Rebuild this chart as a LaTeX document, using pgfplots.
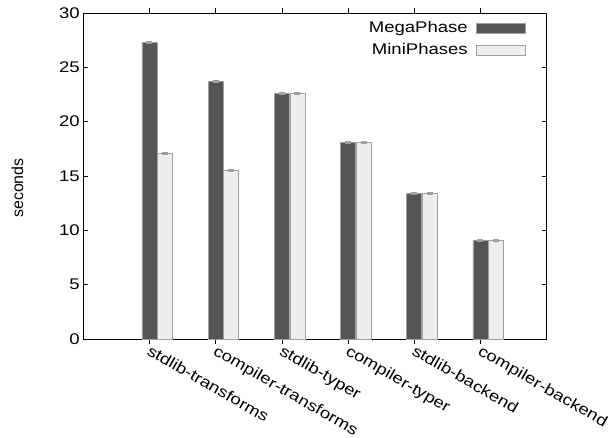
\documentclass[border=0pt]{standalone}
\usepackage{pgfplots}
\pgfplotsset{compat=1.18}
\usepackage{fontspec}
\setmainfont[FakeStretch=1.2]{Liberation Sans}
\newfontfamily\plainfont{Liberation Sans}
\definecolor{darkbar}{HTML}{555555}
\definecolor{lightbar}{HTML}{EEEEEE}
\definecolor{edgegray}{HTML}{A0A0A0}
\begin{document}
\begin{tikzpicture}
\useasboundingbox (-83.3bp,-99bp) rectangle (526.7bp,339bp);
\begin{axis}[
  at={(0,0)}, anchor=south west,
  scale only axis, width=463.4bp, height=326bp,
  xmin=-1, xmax=6, ymin=0, ymax=30,
  ytick={0,5,10,15,20,25,30},
  xtick={0,1,2,3,4,5},
  xticklabels={stdlib-transforms,compiler-transforms,stdlib-typer,compiler-typer,stdlib-backend,compiler-backend},
  tick align=inside, tick pos=both,
  major tick length=5bp,
  tick style={black, line width=0.6pt},
  axis line style={black, line width=0.8pt},
  font=\fontsize{15.5}{18}\selectfont,
  /pgf/number format/assume math mode=true,
  yticklabel style={font=\fontsize{15.5}{18}\selectfont},
  xticklabel style={font=\fontsize{15.5}{18}\selectfont, rotate=-30, anchor=north west, inner sep=1bp, xshift=1bp, yshift=2bp},
  ylabel={\plainfont\fontsize{16}{18}\selectfont seconds},
  ylabel style={at={(axis description cs:-0.142,0.463)}, anchor=center},
  ybar, bar width=15bp,
  legend plot pos=right,
  legend cell align=right,
  legend style={draw=none, fill=none, at={(axis description cs:1,1)}, anchor=north east, xshift=-18bp, yshift=-5bp, row sep=5bp, column sep=7bp, font=\fontsize{15.5}{18}\selectfont,
    nodes={inner sep=1bp, text height=11bp, text depth=4bp}},
  legend image code/.code={\draw[#1] (0bp,-5bp) rectangle (49bp,5bp);},
]
\addplot[fill=darkbar, draw=edgegray, line width=0.8pt, bar shift=0bp,
  error bars/.cd, y dir=both, y explicit,
  error bar style={draw=edgegray, line width=2pt}, error mark options={draw=edgegray, line width=1.5pt, mark size=3bp, rotate=90}]
 coordinates {
 (0,27.3) +- (0,0.07)
 (1,23.72) +- (0,0.07)
 (2,22.62) +- (0,0.07)
 (3,18.08) +- (0,0.07)
 (4,13.4) +- (0,0.07)
 (5,9.08) +- (0,0.07)
};
\addlegendentry{MegaPhase}
\addplot[fill=lightbar, draw=edgegray, line width=0.8pt, bar shift=15.6bp,
  error bars/.cd, y dir=both, y explicit,
  error bar style={draw=edgegray, line width=2pt}, error mark options={draw=edgegray, line width=1.5pt, mark size=3bp, rotate=90}]
 coordinates {
 (0,17.08) +- (0,0.07)
 (1,15.55) +- (0,0.07)
 (2,22.62) +- (0,0.07)
 (3,18.1) +- (0,0.07)
 (4,13.42) +- (0,0.07)
 (5,9.08) +- (0,0.07)
};
\addlegendentry{MiniPhases}
\end{axis}
\end{tikzpicture}
\end{document}
